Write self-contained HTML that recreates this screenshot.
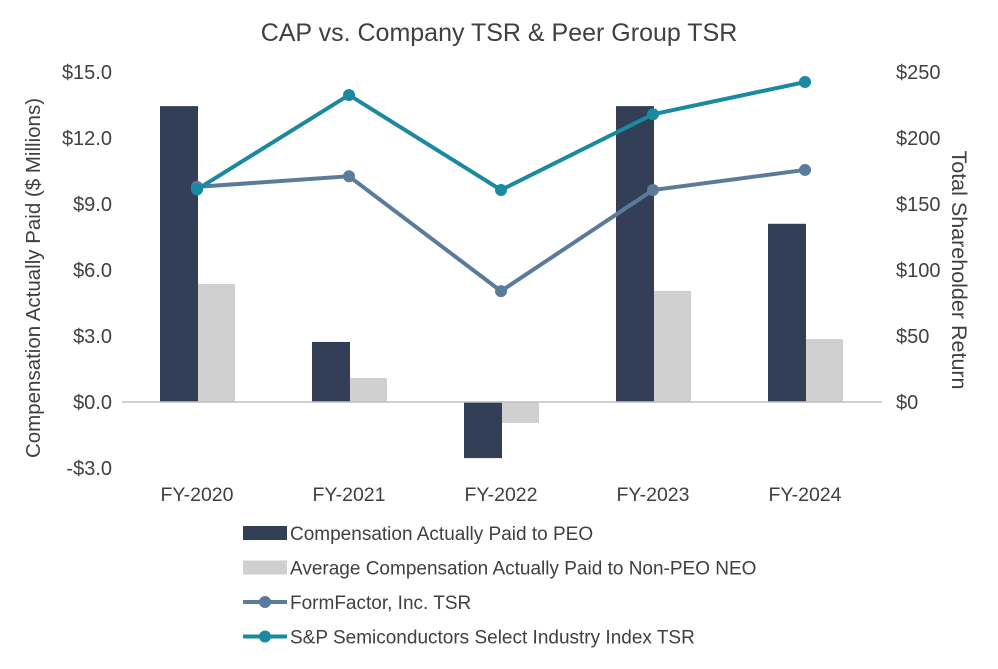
<!DOCTYPE html>
<html><head><meta charset="utf-8"><style>
body{margin:0;background:#fff;font-family:"Liberation Sans",sans-serif;}
svg text{font-family:"Liberation Sans",sans-serif;fill:#404040;}
</style></head><body>
<svg id="c" width="998" height="664">
<text x="499" y="41" font-size="25" text-anchor="middle">CAP vs. Company TSR &amp; Peer Group TSR</text>
<text transform="translate(40,278) rotate(-90)" font-size="20.5" text-anchor="middle">Compensation Actually Paid ($ Millions)</text>
<text transform="translate(952,270) rotate(90)" font-size="21.5" text-anchor="middle">Total Shareholder Return</text>
<g id="g"></g>
</svg>
<script>
const categories=["FY-2020","FY-2021","FY-2022","FY-2023","FY-2024"];
const peo=[13.45,2.73,-2.55,13.45,8.1];
const nonPeo=[5.36,1.09,-0.95,5.05,2.86];
const ffTsr=[163,171,84,160.6,175.8];
const spTsr=[161,232.6,160.6,218,242.4];
const leftTicks=[-3,0,3,6,9,12,15];
const leftTickLabels=["-$3.0","$0.0","$3.0","$6.0","$9.0","$12.0","$15.0"];
const rightTicks=[0,50,100,150,200,250];
const rightTickLabels=["$0","$50","$100","$150","$200","$250"];
const NS="http://www.w3.org/2000/svg",g=document.getElementById('g');
function el(t,a,txt){const e=document.createElementNS(NS,t);for(const k in a)e.setAttribute(k,a[k]);if(txt!=null)e.textContent=txt;g.appendChild(e);return e;}
const yL=v=>402-v*22, yR=v=>402-v*1.32, xC=i=>197+i*152;
leftTicks.forEach((v,i)=>{const t=el('text',{x:112,y:yL(v)+7,'font-size':20,'text-anchor':'end'},leftTickLabels[i]);

});
rightTicks.forEach((v,i)=>{const t=el('text',{x:896,y:yR(v)+7,'font-size':20},rightTickLabels[i]);

});
categories.forEach((c,i)=>{
const r1=el('rect',{x:xC(i)-37,y:Math.min(yL(peo[i]),yL(0)),width:38,height:Math.abs(yL(peo[i])-yL(0)),fill:'#323f56'});


const r2=el('rect',{x:xC(i)+1,y:Math.min(yL(nonPeo[i]),yL(0)),width:37,height:Math.abs(yL(nonPeo[i])-yL(0)),fill:'#d0d0d0'});


const t=el('text',{x:xC(i),y:501,'font-size':19.5,'text-anchor':'middle'},c);

});
const ax=el('line',{x1:122,x2:882,y1:402,y2:402,stroke:'#bfbfbf','stroke-width':1.5});


[[ffTsr,'#5b7b9a','formfactor-tsr'],[spTsr,'#1a8aa1','sp-semis-tsr']].forEach(([d,col,n])=>{
const p=el('polyline',{points:d.map((v,i)=>xC(i)+','+yR(v)).join(' '),fill:'none',stroke:col,'stroke-width':4});


d.forEach((v,i)=>{const c=el('circle',{cx:xC(i),cy:yR(v),r:6,fill:col});

});});
const leg=[["Compensation Actually Paid to PEO",'bar','#323f56'],["Average Compensation Actually Paid to Non-PEO NEO",'bar','#d0d0d0'],["FormFactor, Inc. TSR",'line','#5b7b9a'],["S&P Semiconductors Select Industry Index TSR",'line','#1a8aa1']];
leg.forEach(([t,k,col],i)=>{const y=533+i*34.5;
if(k==='bar'){const r=el('rect',{x:243,y:y-7,width:44,height:14,fill:col});}
else{const l=el('line',{x1:243,x2:287,y1:y,y2:y,stroke:col,'stroke-width':4});
const c=el('circle',{cx:265,cy:y,r:6,fill:col});}
const tx=el('text',{x:290,y:y+7,'font-size':19},t);

});
</script>
</body></html>
